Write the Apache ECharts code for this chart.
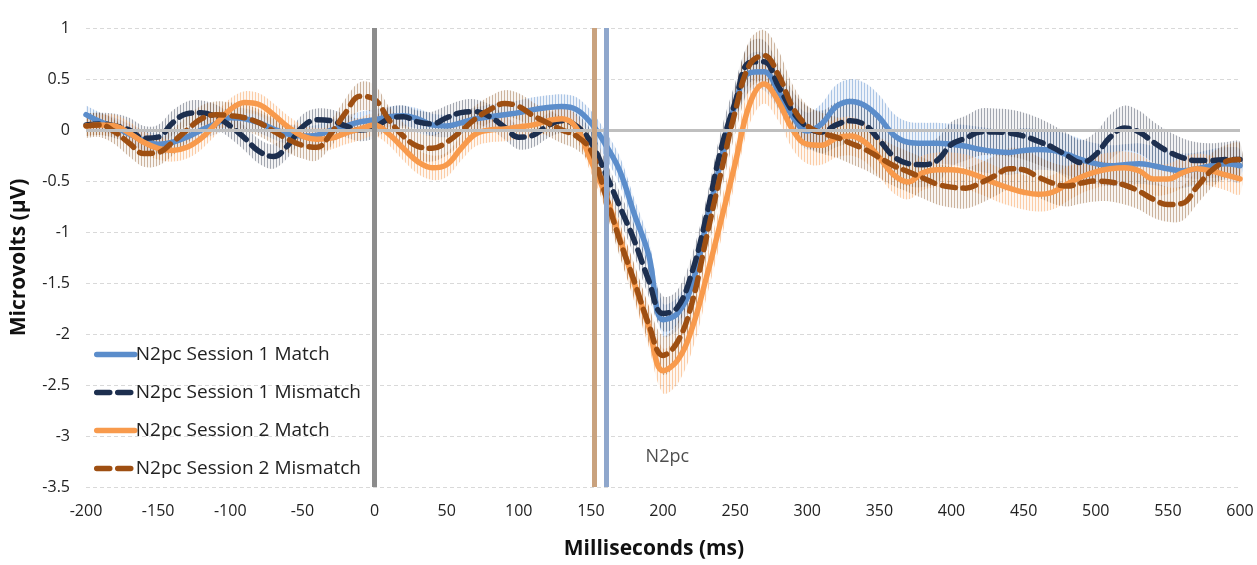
<!DOCTYPE html>
<html><head><meta charset="utf-8">
<script src="https://cdn.jsdelivr.net/npm/echarts@6/dist/echarts.min.js"></script>
<style>html,body{margin:0;padding:0;background:#fff}#c{width:1257px;height:565px}</style>
</head><body><div id="c"></div>
<script>
const times = [-200,-190,-180,-170,-160,-150,-140,-130,-120,-110,-100,-90,-80,-70,-60,-50,-40,-30,-20,-10,
  0,10,20,30,40,50,60,70,80,90,100,110,120,130,140,150,160,170,180,190,200,210,220,230,240,250,260,270,280,290,
  300,310,320,330,340,350,360,370,380,390,400,410,420,430,440,450,460,470,480,490,500,510,520,530,540,550,560,570,580,590,600];
const seriesNames = ['N2pc Session 1 Match','N2pc Session 1 Mismatch','N2pc Session 2 Match','N2pc Session 2 Mismatch'];
const s1Match = [0.15,0.08,0.03,-0.04,-0.10,-0.14,-0.12,-0.07,0.00,0.06,0.12,0.11,0.07,0.01,-0.04,-0.06,-0.05,0.00,0.04,0.08,
  0.10,0.13,0.14,0.11,0.05,0.04,0.07,0.11,0.13,0.15,0.17,0.20,0.22,0.23,0.20,0.07,-0.14,-0.40,-0.82,-1.22,-1.86,-1.80,-1.52,-0.92,-0.31,0.25,0.56,0.57,0.38,0.13,
  -0.01,0.06,0.23,0.28,0.24,0.12,-0.05,-0.12,-0.13,-0.13,-0.14,-0.16,-0.19,-0.21,-0.22,-0.20,-0.19,-0.20,-0.24,-0.29,-0.33,-0.35,-0.34,-0.33,-0.35,-0.38,-0.40,-0.38,-0.35,-0.33,-0.35];
const s1Mismatch = [0.05,0.06,0.04,0.00,-0.08,-0.07,0.07,0.16,0.17,0.13,0.04,-0.08,-0.21,-0.26,-0.15,0.03,0.10,0.09,0.04,0.00,
  0.03,0.11,0.13,0.08,0.06,0.12,0.17,0.18,0.13,0.03,-0.07,-0.05,0.04,0.09,0.04,-0.12,-0.42,-0.75,-1.08,-1.47,-1.80,-1.74,-1.40,-0.85,-0.20,0.27,0.66,0.67,0.43,0.18,
  0.03,-0.02,0.05,0.09,0.05,-0.10,-0.26,-0.33,-0.34,-0.30,-0.14,-0.08,-0.02,-0.02,-0.03,-0.06,-0.11,-0.17,-0.25,-0.32,-0.24,-0.07,0.02,-0.02,-0.12,-0.21,-0.27,-0.30,-0.30,-0.29,-0.29];
const s2Match = [0.04,0.05,0.04,-0.03,-0.12,-0.18,-0.20,-0.17,-0.08,0.06,0.20,0.27,0.25,0.15,0.03,-0.06,-0.09,-0.08,-0.03,0.01,
  0.05,-0.04,-0.18,-0.31,-0.37,-0.34,-0.18,-0.04,0.00,0.01,0.03,0.05,0.09,0.11,0.02,-0.30,-0.63,-1.06,-1.50,-1.92,-2.36,-2.26,-1.95,-1.45,-0.90,-0.33,0.25,0.45,0.28,0.00,
  -0.14,-0.15,-0.08,-0.06,-0.12,-0.27,-0.44,-0.51,-0.42,-0.39,-0.39,-0.41,-0.46,-0.52,-0.57,-0.61,-0.63,-0.61,-0.53,-0.46,-0.41,-0.38,-0.37,-0.40,-0.48,-0.48,-0.42,-0.38,-0.40,-0.44,-0.48];
const s2Mismatch = [0.04,0.05,-0.02,-0.13,-0.23,-0.22,-0.12,0.00,0.11,0.15,0.14,0.12,0.07,-0.01,-0.09,-0.15,-0.17,-0.03,0.17,0.33,
  0.30,0.10,-0.06,-0.16,-0.18,-0.12,-0.01,0.11,0.20,0.26,0.23,0.14,0.07,0.00,-0.06,-0.20,-0.63,-1.08,-1.48,-1.90,-2.21,-2.08,-1.70,-1.06,-0.43,0.18,0.64,0.73,0.54,0.22,
  0.04,-0.03,-0.07,-0.13,-0.19,-0.27,-0.35,-0.41,-0.47,-0.53,-0.56,-0.57,-0.52,-0.45,-0.38,-0.39,-0.46,-0.52,-0.55,-0.52,-0.50,-0.51,-0.54,-0.60,-0.68,-0.73,-0.72,-0.56,-0.40,-0.31,-0.29];
const s1MatchErr = [0.09,0.09,0.09,0.10,0.10,0.10,0.10,0.10,0.10,0.10,0.10,0.10,0.10,0.10,0.10,0.10,0.10,0.10,0.10,0.10,
  0.10,0.10,0.10,0.10,0.11,0.11,0.11,0.11,0.12,0.12,0.12,0.12,0.12,0.12,0.12,0.12,0.13,0.14,0.15,0.15,0.16,0.16,0.16,0.16,0.16,0.17,0.18,0.18,0.18,0.18,
  0.18,0.20,0.21,0.22,0.22,0.22,0.21,0.20,0.20,0.20,0.20,0.21,0.22,0.22,0.22,0.22,0.20,0.20,0.20,0.20,0.20,0.20,0.20,0.20,0.19,0.18,0.17,0.16,0.16,0.16,0.16];
const s1MismatchErr = [0.11,0.11,0.12,0.12,0.12,0.12,0.12,0.12,0.12,0.12,0.12,0.12,0.12,0.12,0.12,0.12,0.11,0.11,0.11,0.11,
  0.11,0.11,0.11,0.11,0.12,0.12,0.12,0.12,0.12,0.12,0.12,0.12,0.12,0.12,0.12,0.12,0.13,0.14,0.15,0.16,0.17,0.17,0.17,0.17,0.18,0.19,0.20,0.21,0.21,0.20,
  0.20,0.21,0.22,0.22,0.22,0.22,0.22,0.22,0.22,0.22,0.22,0.22,0.23,0.23,0.23,0.23,0.23,0.22,0.22,0.22,0.22,0.22,0.22,0.21,0.20,0.20,0.19,0.18,0.17,0.17,0.17];
const s2MatchErr = [0.10,0.10,0.11,0.11,0.11,0.11,0.11,0.11,0.11,0.11,0.11,0.11,0.11,0.11,0.11,0.11,0.11,0.11,0.11,0.11,
  0.11,0.11,0.12,0.12,0.12,0.12,0.12,0.12,0.12,0.12,0.12,0.12,0.12,0.12,0.12,0.12,0.14,0.16,0.18,0.20,0.22,0.23,0.22,0.20,0.19,0.19,0.19,0.19,0.19,0.19,
  0.19,0.19,0.19,0.19,0.19,0.19,0.18,0.17,0.17,0.17,0.17,0.17,0.17,0.17,0.17,0.17,0.17,0.17,0.17,0.16,0.16,0.16,0.16,0.16,0.16,0.15,0.15,0.15,0.15,0.15,0.15];
const s2MismatchErr = [0.12,0.12,0.12,0.13,0.13,0.13,0.13,0.13,0.13,0.13,0.13,0.13,0.13,0.13,0.13,0.13,0.13,0.13,0.14,0.14,
  0.14,0.13,0.13,0.13,0.13,0.13,0.13,0.13,0.13,0.13,0.13,0.13,0.13,0.13,0.13,0.14,0.15,0.16,0.17,0.18,0.19,0.19,0.19,0.19,0.20,0.22,0.24,0.25,0.24,0.22,
  0.20,0.20,0.20,0.20,0.20,0.20,0.20,0.20,0.20,0.20,0.20,0.20,0.20,0.20,0.20,0.20,0.20,0.20,0.20,0.20,0.20,0.19,0.19,0.18,0.18,0.17,0.17,0.17,0.17,0.16,0.16];
const xTicks = {min: -200, max: 600, step: 50};
const yTicks = {min: -3.5, max: 1, step: 0.5};
const eventLines = [0, 152, 161];
const annotation = {label: 'N2pc', x: 203, y: -3.2};

const FONT = '"Open Sans", "Liberation Sans", sans-serif';
const lineColors = ['#5b8dcb', '#1d2f4f', '#f89a4c', '#9e4f12'];
const lineTypes = ['solid', [13, 8], 'solid', [13, 8]];
const bandColors = [
  ['rgba(91,141,203,0.45)', 'rgba(91,141,203,0.10)'],
  ['rgba(45,55,75,0.40)', 'rgba(45,55,75,0.06)'],
  ['rgba(248,154,76,0.45)', 'rgba(248,154,76,0.08)'],
  ['rgba(140,80,30,0.40)', 'rgba(140,80,30,0.06)']
];
const eventColors = ['#8c8c8c', '#c9a27e', '#8fa7cc'];

function hatch(lineCol, bgCol) {
  const c = document.createElement('canvas');
  c.width = 3; c.height = 4;
  const g = c.getContext('2d');
  g.fillStyle = bgCol; g.fillRect(0, 0, 3, 4);
  g.fillStyle = lineCol; g.fillRect(0, 0, 1, 4);
  return {image: c, repeat: 'repeat'};
}

const values = [s1Match, s1Mismatch, s2Match, s2Mismatch];
const errs = [s1MatchErr, s1MismatchErr, s2MatchErr, s2MismatchErr];

const series = [];
// reference lines
series.push({
  type: 'line', data: [], silent: true, z: 1,
  markLine: {
    silent: true, symbol: ['none', 'none'], label: {show: false}, animation: false,
    data: [{yAxis: 0, lineStyle: {color: '#bfbfbf', width: 3, type: 'solid'}}].concat(
      eventLines.map((x, i) => ({xAxis: x, lineStyle: {color: eventColors[i], width: 5, type: 'solid'}})))
  }
});
// error bands (custom polygon through the axis scales)
values.forEach((v, i) => {
  const e = errs[i];
  const fill = hatch(bandColors[i][0], bandColors[i][1]);
  series.push({
    type: 'custom', silent: true, z: 2,
    data: times.map((t, k) => [t, +(v[k] - e[k]).toFixed(3), +(v[k] + e[k]).toFixed(3)]),
    encode: {x: 0, y: [1, 2]},
    renderItem: function (params, api) {
      if (params.dataIndex !== 0) return null;
      const up = [], lo = [];
      for (let k = 0; k < times.length; k++) {
        up.push(api.coord([times[k], v[k] + e[k]]));
        lo.push(api.coord([times[k], v[k] - e[k]]));
      }
      return {
        type: 'group',
        children: [
          {type: 'polyline', shape: {points: up.concat(lo.reverse()), smooth: 0.35}, style: {fill: fill, stroke: null}}
        ]
      };
    }
  });
});
// main lines
values.forEach((v, i) => {
  series.push({
    name: seriesNames[i], type: 'line', smooth: 0.4, symbol: 'none', showSymbol: false, z: 3,
    lineStyle: {color: lineColors[i], width: 5.5, type: lineTypes[i], cap: 'round'},
    itemStyle: {color: lineColors[i]},
    data: times.map((t, k) => [t, v[k]])
  });
});
// annotation
series.push({
  type: 'scatter', symbolSize: 1, itemStyle: {color: 'rgba(0,0,0,0)'}, silent: true, z: 4,
  label: {show: true, position: 'inside', formatter: annotation.label, fontSize: 18, color: '#222', fontFamily: FONT},
  data: [[annotation.x, annotation.y]]
});

const chart = echarts.init(document.getElementById('c'), null, {renderer: 'canvas'});
chart.setOption({
  animation: false,
  backgroundColor: '#fff',
  grid: {left: 86, right: 17, top: 28, bottom: 75},
  legend: {
    data: seriesNames, orient: 'vertical', left: 89, top: 340, itemWidth: 38, itemHeight: 14, itemGap: 19,
    itemStyle: {opacity: 0},
    lineStyle: {width: 5.5, cap: 'round'},
    textStyle: {fontSize: 19, color: '#222', fontFamily: FONT, padding: [0, 0, 0, -4]}
  },
  xAxis: {
    type: 'value', min: xTicks.min, max: xTicks.max, interval: xTicks.step,
    name: 'Milliseconds (ms)', nameLocation: 'middle', nameGap: 52,
    nameTextStyle: {fontSize: 21, fontWeight: 'bold', color: '#111', fontFamily: FONT, padding: [0, 18, 0, 0]},
    axisLine: {show: false}, axisTick: {show: false}, splitLine: {show: false},
    axisLabel: {fontSize: 16, color: '#222', margin: 16, fontFamily: FONT}
  },
  yAxis: {
    type: 'value', min: yTicks.min, max: yTicks.max, interval: yTicks.step,
    name: 'Microvolts (µV)', nameLocation: 'middle', nameGap: 56, nameRotate: 90,
    nameTextStyle: {fontSize: 21, fontWeight: 'bold', color: '#111', fontFamily: FONT},
    axisLine: {show: false}, axisTick: {show: false},
    splitLine: {show: true, lineStyle: {color: '#d9d9d9', type: [4, 3], width: 1}},
    axisLabel: {fontSize: 16, color: '#222', margin: 16, fontFamily: FONT}
  },
  series: series
});
</script></body></html>
